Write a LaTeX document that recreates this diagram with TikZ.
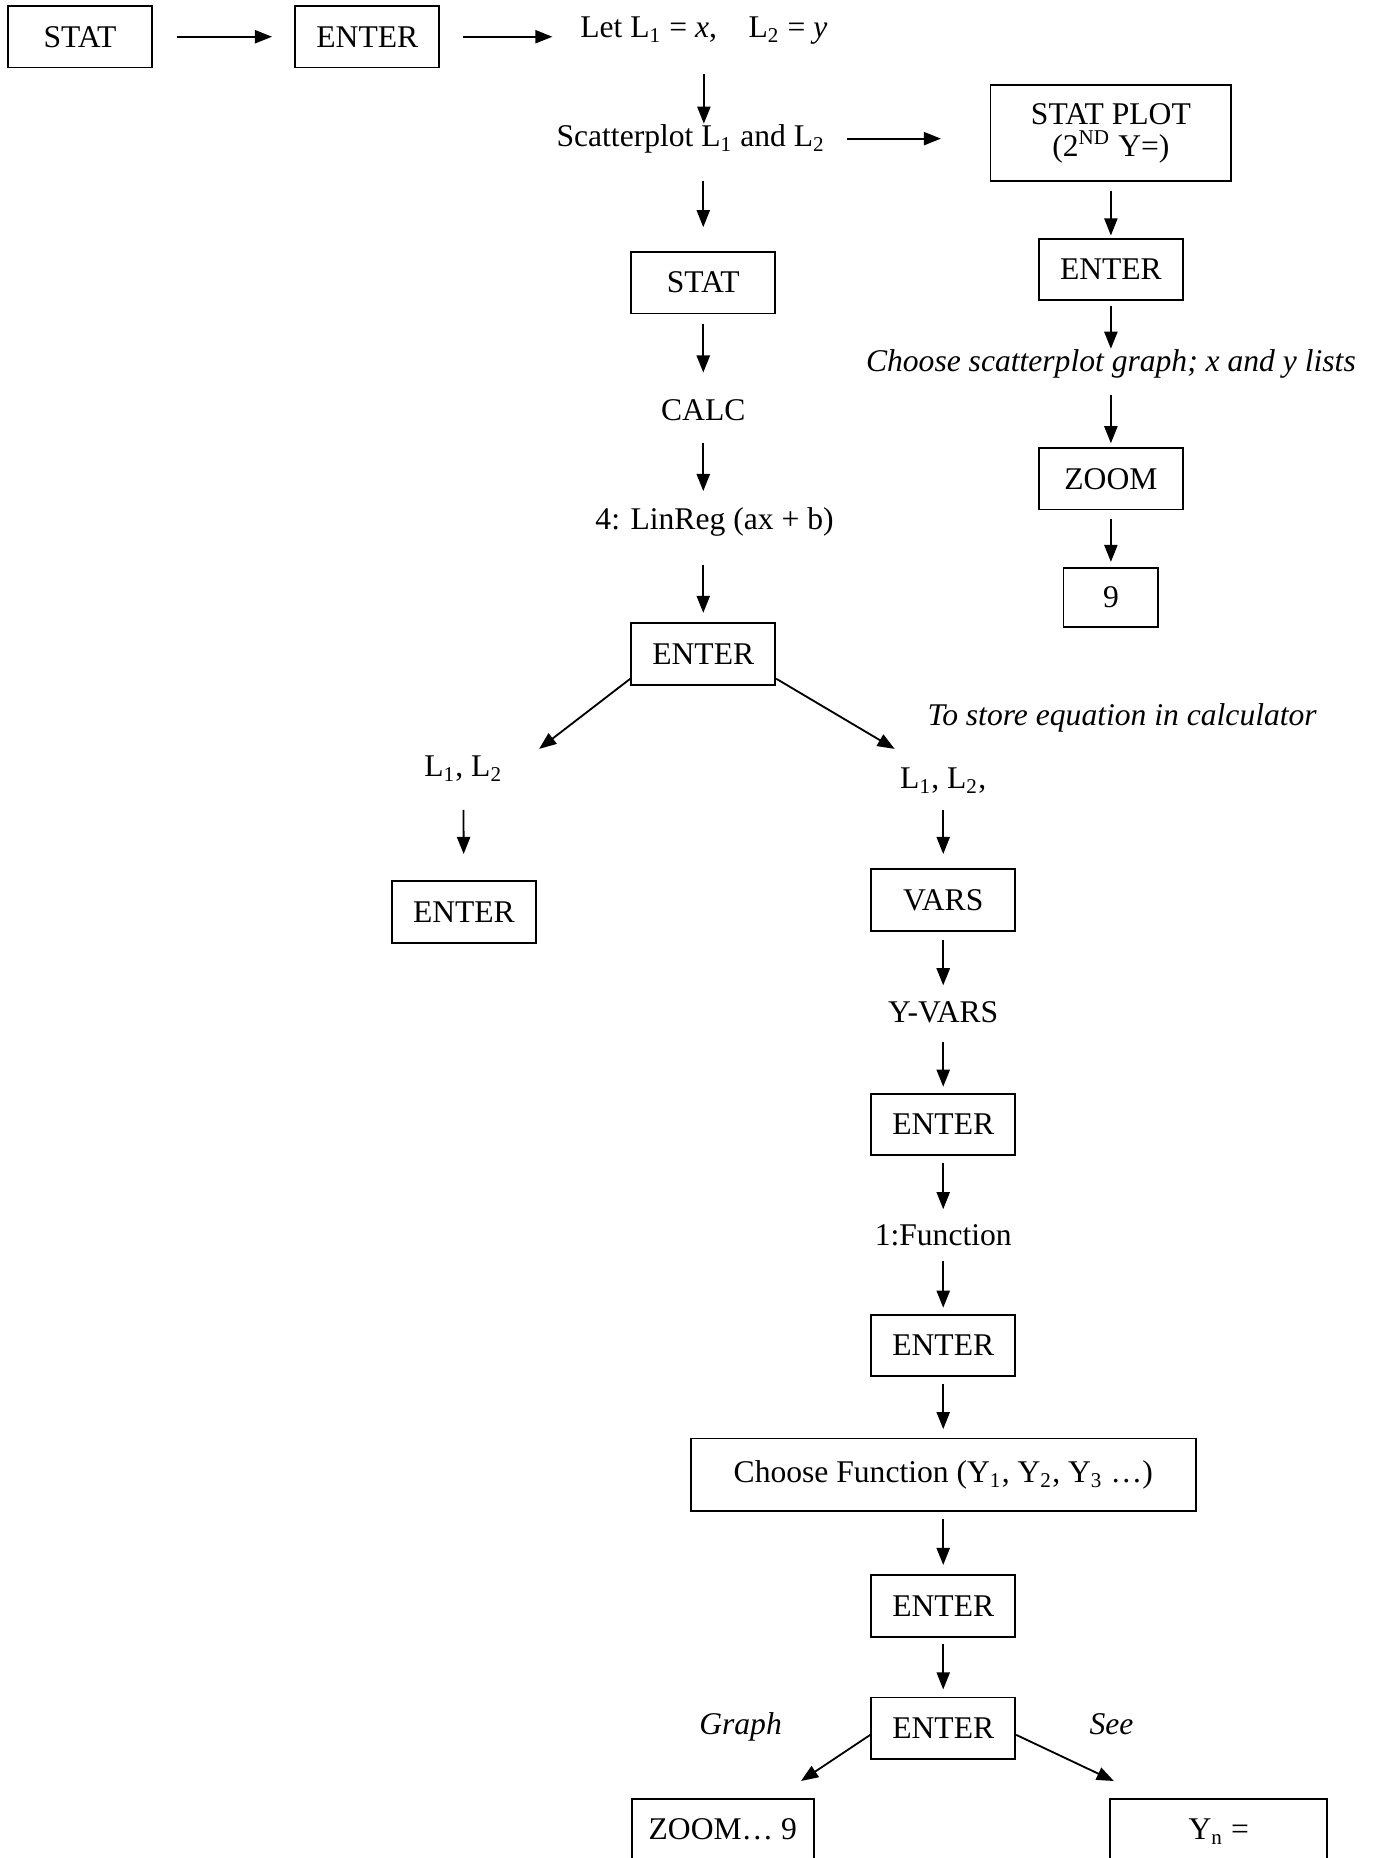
\documentclass[tikz,border=0pt]{standalone}
\usepackage{fontspec}
\setmainfont{Liberation Serif}
\usepackage{tikz}
\usetikzlibrary{arrows.meta}

\tikzset{box/.style={draw, line width=0.7pt, minimum width=54.7pt, minimum height=23.4pt, inner sep=0pt},
         txt/.style={inner sep=0pt, text height=8.5pt, text depth=2.5pt},
         arr/.style={-{Triangle[length=6.5pt,width=5pt]}, line width=0.7pt}}

\begin{document}
\begin{tikzpicture}[x=0.45pt,y=-0.45pt,font=\fontsize{12}{14}\selectfont]
\useasboundingbox (0,0) rectangle (1160,1568);

\node[box] (stat1) at (67.5,31) {STAT};
\node[box] (enter1) at (310,31) {ENTER};
\node[txt] (let) at (594,25) {Let L\textsubscript{1} = \textit{x},\quad L\textsubscript{2} = \textit{y}};
\node[txt] (scat) at (583,117) {Scatterplot L\textsubscript{1} and L\textsubscript{2}};
\node[box] (stat2) at (593.5,238.5) {STAT};
\node[txt] (calc) at (593.5,348) {CALC};
\node[txt] (linreg) at (603,440) {4: LinReg (ax + b)};
\node[box] (enter2) at (593.5,552) {ENTER};

\node[box, minimum width=91.4pt, minimum height=36.5pt, align=center] (splot) at (937.5,112.5) {STAT PLOT\\[-2pt](2\textsuperscript{ND} Y=)};
\node[box] (enterr) at (937.5,227.5) {ENTER};
\node[txt] (chsc) at (937.5,307) {\itshape Choose scatterplot graph; x and y lists};
\node[box] (zoomr) at (937.5,404) {ZOOM};
\node[box, minimum width=36pt, minimum height=22.5pt] (nine) at (937.5,504) {9};

\node[txt] (store) at (947,606) {\itshape To store equation in calculator};
\coordinate (tipl) at (455,632);
\coordinate (tipr) at (755,632);

\node[txt] (ll) at (391,649) {L\textsubscript{1}, L\textsubscript{2}};
\node[box] (enterl) at (391.5,769.5) {ENTER};

\node[txt] (lr) at (796,659) {L\textsubscript{1}, L\textsubscript{2},};
\node[box] (vars) at (796,759.5) {VARS};
\node[txt] (yvars) at (796,856) {Y-VARS};
\node[box] (enter3) at (796,949) {ENTER};
\node[txt] (func) at (796,1044) {1:Function};
\node[box] (enter4) at (796,1135.5) {ENTER};
\node[box, minimum width=191.7pt, minimum height=27.5pt] (chfn) at (796,1244.5) {Choose Function (Y\textsubscript{1}, Y\textsubscript{2}, Y\textsubscript{3} …)};
\node[box] (enter5) at (796,1355.5) {ENTER};
\node[box] (enter6) at (796,1458.5) {ENTER};

\node[txt] (graph) at (625,1457) {\itshape Graph};
\node[txt] (see) at (938,1457) {\itshape See};
\coordinate (tipg) at (676,1503);
\coordinate (tips) at (940,1503);
\node[box, minimum width=69.3pt, minimum height=27pt] (zoom9) at (610,1548) {\raisebox{4pt}{ZOOM… 9}};
\node[box, minimum width=82.4pt, minimum height=27pt] (yn) at (1028.5,1548) {\raisebox{4pt}{Y\textsubscript{n} =}};

\draw[arr, shorten <=9pt, shorten >=8.5pt] (stat1) -- (enter1);
\draw[arr, shorten <=8.5pt, shorten >=10.4pt] (enter1.east) -- (enter1.east -| let.west);
\draw[arr, shorten <=11.2pt] (let.south) -- (let.south |- scat.north);
\draw[arr, shorten <=10.3pt, shorten >=9pt] (scat.south -| stat2) -- (stat2);
\draw[arr, shorten <=3.6pt, shorten >=9.4pt] (stat2) -- (calc);
\draw[arr, shorten <=5.8pt, shorten >=5.8pt] (calc) -- (calc |- linreg.north);
\draw[arr, shorten <=10.7pt, shorten >=3.6pt] (linreg.south -| calc) -- (enter2);

\draw[arr, shorten <=8.1pt, shorten >=18.5pt] (scat.east) -- (scat.east -| splot.west);
\draw[arr, shorten <=3.2pt, shorten >=0.9pt] (splot) -- (enterr);
\draw[arr, shorten <=1.8pt] (enterr) -- (chsc);
\draw[arr, shorten <=6.2pt, shorten >=1.4pt] (chsc) -- (zoomr);
\draw[arr, shorten <=3.2pt, shorten >=1.8pt] (zoomr) -- (nine);

\draw[arr] ([yshift=2.7pt]enter2.south west) -- (tipl);
\draw[arr] ([yshift=2.7pt]enter2.south east) -- (tipr);

\draw[arr, shorten <=9.8pt, shorten >=9.9pt] (ll) -- (enterl);
\draw[arr, shorten <=5.3pt, shorten >=5.4pt] (lr) -- (vars);
\draw[arr, shorten <=3.2pt, shorten >=5.3pt] (vars) -- (yvars);
\draw[arr, shorten <=4.9pt, shorten >=2.3pt] (yvars) -- (enter3);
\draw[arr, shorten <=2.7pt, shorten >=4.9pt] (enter3) -- (func);
\draw[arr, shorten <=3.5pt, shorten >=2.3pt] (func) -- (enter4);
\draw[arr, shorten <=2.7pt, shorten >=3.2pt] (enter4) -- (chfn);
\draw[arr, shorten <=2.7pt, shorten >=3.6pt] (chfn) -- (enter5);
\draw[arr, shorten <=2.3pt, shorten >=2.7pt] (enter5) -- (enter6);

\draw[arr] ([yshift=-2.5pt]enter6.west) -- (tipg);
\draw[arr] ([yshift=-2.5pt]enter6.east) -- (tips);
\end{tikzpicture}
\end{document}
